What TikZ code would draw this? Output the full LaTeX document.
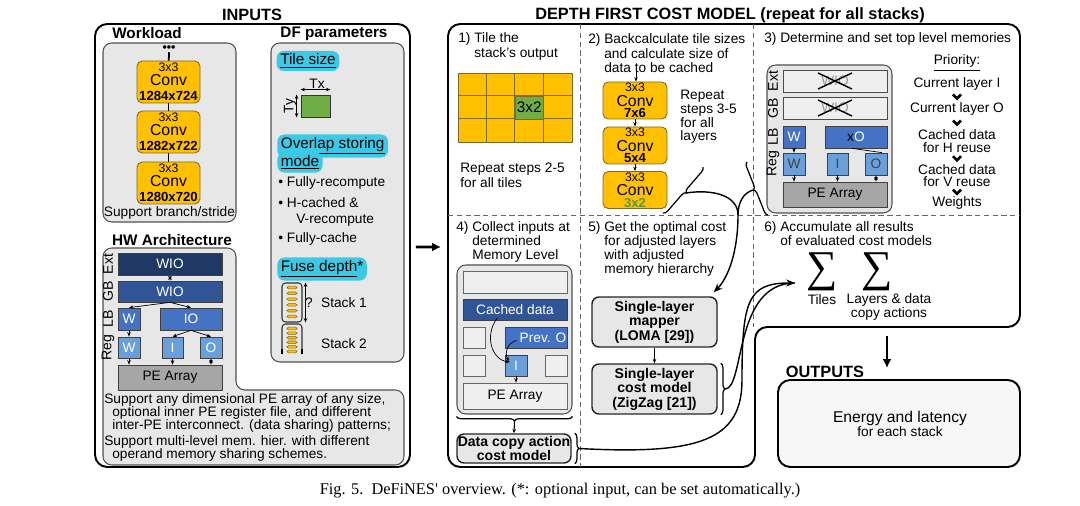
\documentclass[tikz,border=0pt]{standalone}
\usepackage{fontspec}
\setmainfont{Liberation Sans}
\newfontfamily\capserif{Liberation Serif}
\usepackage{graphicx}
\usetikzlibrary{arrows.meta,calc,decorations.pathreplacing}

\definecolor{convgold}{HTML}{FFC000}
\definecolor{convline}{HTML}{7F6A2A}
\definecolor{tilegreen}{HTML}{70AD47}
\definecolor{hlcyan}{HTML}{3BC9E6}
\definecolor{panelgray}{HTML}{E7E7E7}
\definecolor{panelline}{HTML}{505050}
\definecolor{memext}{HTML}{203864}
\definecolor{memgb}{HTML}{2F5597}
\definecolor{memlb}{HTML}{4472C4}
\definecolor{memreg}{HTML}{6A9FDA}
\definecolor{pegray}{HTML}{A6A6A6}
\definecolor{emptybox}{HTML}{EFEFEF}
\definecolor{outfill}{HTML}{F7F7F7}

\tikzset{
  sz/.style 2 args={minimum width=#1*0.02cm, minimum height=#2*0.02cm},
  txt/.style={align=left},
  bigtitle/.style={font=\fontsize{9.3}{10}\selectfont\bfseries},
  subtitle/.style={font=\fontsize{8.7}{9}\selectfont\bfseries},
  frame/.style={draw, line width=1.1pt, rounded corners=7pt},
  panel/.style={draw=panelline, fill=panelgray, line width=0.6pt, rounded corners=5pt},
  conv/.style={draw=convline, fill=convgold, rounded corners=3pt, line width=0.5pt},
  convk/.style={font=\fontsize{7}{7}\selectfont},
  convn/.style={font=\fontsize{9}{9}\selectfont},
  convd/.style={font=\fontsize{7.5}{7.5}\selectfont\bfseries},
  mem/.style={draw=black!75, line width=0.4pt, text=white},
  empt/.style={draw=black!60, fill=emptybox, line width=0.4pt},
  ghost/.style={draw=black!70, fill=emptybox, text=black!40, line width=0.4pt},
  hl/.style={fill=hlcyan, rounded corners=4pt, inner xsep=2pt, inner ysep=1.5pt, font=\fontsize{8.7}{9}\selectfont},
  boldbox/.style={draw=black!85, fill=panelgray, line width=0.8pt, rounded corners=4pt, align=center, font=\fontsize{8}{8.3}\selectfont\bfseries},
  sumsign/.style={font=\capserif\fontsize{25}{25}\selectfont},
  tip/.style={-{Stealth[length=2.5pt,width=2pt]}, line width=0.4pt},
  dtip/.style={{Stealth[length=2.5pt,width=2pt]}-{Stealth[length=2.5pt,width=2pt]}, line width=0.4pt},
  sidelab/.style={rotate=90, font=\fontsize{8}{8}\selectfont},
  cross/.style={line width=0.8pt},
  chev/.style={line width=1.5pt},
  flow/.style={line width=0.8pt},
  bigarrow/.style={line width=1.7pt, -{Latex[length=5pt,width=5pt]}},
  brc/.style={decorate, decoration={brace, amplitude=2.5pt}, line width=0.7pt},
  divider/.style={line width=0.4pt, black!60, dash pattern=on 3pt off 2pt},
  bar/.style={draw=convline, fill=convgold, rounded corners=0.8pt, line width=0.3pt, sz={10}{2.6}},
  gridln/.style={draw=convline, line width=0.5pt}
}

\begin{document}
\begin{tikzpicture}[x=0.02cm, y=-0.02cm, every node/.style={inner sep=0pt, font=\fontsize{7.8}{8}\selectfont}]
\useasboundingbox[fill=white] (0,0) rectangle (1080,506);

% titles
\node[bigtitle] (intitle) at (252,15) {INPUTS};
\node[bigtitle] (dftitle) at (730,15) {DEPTH FIRST COST MODEL (repeat for all stacks)};

%%%% INPUTS
\node[frame, sz={315}{443}] (inbox) at (252.5,245.5) {};

% workload
\node[subtitle] (wltitle) at (147,33) {Workload};
\node[panel, sz={133}{179}] (wlpanel) at (169.5,132.5) {};
\node[font=\fontsize{7}{7}\selectfont\bfseries] (dots) at (169,49) {\textbullet\textbullet\textbullet};
\foreach \n/\cy/\dims in {1/82/1284x724, 2/132/1282x722, 3/183/1280x720} {
  \node[conv, sz={63}{42}] (wl\n) at (168.5,\cy) {};
  \node[convk] (wl\n-k) at ($(wl\n.north)+(0,6.5)$) {3x3};
  \node[convn] (wl\n-c) at ($(wl\n.center)+(0,-1.5)$) {Conv};
  \node[convd] (wl\n-d) at ($(wl\n.south)+(0,-7.5)$) {\dims};
}
\draw[line width=1pt] (dots) -- (wl1);
\draw[line width=1pt] (wl1) -- (wl2);
\draw[line width=1pt] (wl2) -- (wl3);
\node (wlnote) at (169.5,213) {Support branch/stride};

% DF parameters
\node[subtitle] (dfptitle) at (334,34) {DF parameters};
\node[panel, sz={133}{319}] (dfpanel) at (337.5,202.5) {};
\node[hl] (tilehl) at (308,61) {\underline{Tile size}};
\node[draw=black!80, fill=tilegreen, sz={29}{22}, line width=0.5pt] (tile) at (315.5,106) {};
\draw[dtip] ($(tile.north west)+(0,-5)$) -- ($(tile.north east)+(0,-5)$);
\node (txlab) at (317,84) {Tx};
\draw[dtip] ($(tile.north west)+(-4,0)$) -- ($(tile.south west)+(-4,0)$);
\node[rotate=90] (tylab) at (290,106) {Ty};
\node[hl, anchor=west] (ovhl1) at (277,146) {\underline{Overlap storing}};
\node[hl, anchor=west] (ovhl2) at (277,162.5) {\underline{mode}};
\node[anchor=west] (om1) at (278,183) {\textbullet\ Fully-recompute};
\node[anchor=west] (om2) at (278,203) {\textbullet\ H-cached \&};
\node[anchor=west] (om3) at (296,220) {V-recompute};
\node[anchor=west] (om4) at (278,239) {\textbullet\ Fully-cache};
\node[hl, anchor=west] (fusehl) at (277,269) {\underline{Fuse depth}*};
% stacks
\node[draw=black!80, rounded corners=2pt, line width=0.6pt, sz={20}{39}] (stk1) at (292,302.5) {};
\foreach \k in {0,...,5}
  \node[bar] (stk1-\k) at (292,287.5+5.8*\k) {};
\draw[black!80, line width=0.6pt, rounded corners=2pt] (282,354) -- (282,324) -- (302,324) -- (302,354);
\draw[line width=1.3pt] (282,349) -- (282,354) (302,349) -- (302,354);
\foreach \k in {0,...,5}
  \node[bar] (stk2-\k) at (292,328.5+4.6*\k) {};
\draw[dtip] ($(stk1.north east)+(3,0)$) -- ($(stk1.south east)+(3,0)$);
\node (qmark) at (309,303) {?};
\node (stk1lab) at (344,303) {Stack 1};
\node (stk2lab) at (344,344) {Stack 2};

% HW architecture
\node[subtitle] (hwtitle) at (172,240) {HW Architecture};
\draw[panel] (103,248) -- (236,248) -- (236,390) -- (404,390) -- (404,465) -- (103,465) -- cycle;
\node[mem, fill=memext, sz={104}{22}] (hext) at (170,264) {WIO};
\node[mem, fill=memgb, sz={104}{21}] (hgb) at (170,291.5) {WIO};
\node[mem, fill=memlb, sz={22}{22}] (hlbw) at (129,319) {W};
\node[mem, fill=memlb, sz={62}{22}] (hlbio) at (191,319) {IO};
\node[mem, fill=memreg, sz={22}{21}] (hrw) at (129,347.5) {W};
\node[mem, fill=memreg, sz={21}{21}] (hri) at (172.5,347.5) {I};
\node[mem, fill=memreg, sz={22}{21}] (hro) at (211,347.5) {O};
\node[mem, fill=pegray, text=black, sz={104}{25}] (hpe) at (170,377.5) {PE Array};
\node[sidelab] (hlext) at (108,264) {Ext};
\node[sidelab] (hlgb) at (108,291.5) {GB};
\node[sidelab] (hllb) at (108,319) {LB};
\node[sidelab] (hlreg) at (108,347.5) {Reg};
\draw[dtip] (hext) -- (hgb);
\draw[tip] (hgb.south) -- (hlbw.north);
\draw[tip] (hgb.south) -- (hlbio.north);
\draw[tip] (hlbw) -- (hrw);
\draw[tip] (hlbio.south) -- (hri.north);
\draw[tip] (hlbio.south) -- (hro.north);
\draw[tip] (hrw.south) -- (hrw.south |- hpe.north);
\draw[tip] (hri.south) -- (hri.south |- hpe.north);
\draw[dtip] (hro.south) -- (hro.south |- hpe.north);
\node[anchor=west] (hwn1) at (104,400) {Support any dimensional PE array of any size,};
\node[anchor=west] (hwn2) at (112,413) {optional inner PE register file, and different};
\node[anchor=west] (hwn3) at (112,425.5) {inter-PE interconnect. (data sharing) patterns;};
\node[anchor=west] (hwn4) at (104,442) {Support multi-level mem. hier. with different};
\node[anchor=west] (hwn5) at (112,455) {operand memory sharing schemes.};

%%%% DEPTH FIRST COST MODEL
\coordinate (dfin) at (448,247);
\draw[bigarrow] ($(inbox.east)+(5,1.5)$) -- ($(dfin)+(-7,0)$);
\draw[frame] (448,24) -- (1020,24) -- (1020,327) -- (755,327) -- (755,467) -- (448,467) -- cycle;
\draw[divider] (580,24) -- (580,467);
\draw[divider] (753,24) -- (753,327);
\draw[divider] (448,215) -- (1020,215);

% 1) tiling
\node[txt, anchor=north west, font=\fontsize{7.8}{8.5}\selectfont] (s1text) at (458,32.5) {1) Tile the\\\phantom{1) }stack's output};
\node[draw=convline, fill=convgold, sz={114}{69}, line width=0.5pt] (tgrid) at (515,107.5) {};
\foreach \i in {1,2,3}
  \draw[gridln] ($(tgrid.north west)+(28.5*\i,0)$) -- ($(tgrid.south west)+(28.5*\i,0)$);
\foreach \j in {1,2}
  \draw[gridln] ($(tgrid.north west)+(0,23*\j)$) -- ($(tgrid.north east)+(0,23*\j)$);
\node[draw=convline, fill=tilegreen, sz={28.5}{23}, line width=0.5pt, font=\fontsize{8.7}{9}\selectfont] (tcell) at (529.25,107.5) {3x2};
\node[txt, anchor=north west, font=\fontsize{7.8}{8.5}\selectfont] (s1rep) at (460,162.5) {Repeat steps 2-5\\for all tiles};

% 2) backcalculation
\node[txt, anchor=north west, font=\fontsize{7.8}{7.1}\selectfont] (s2text) at (588,33.5) {2) Backcalculate tile sizes\\\phantom{2) }and calculate size of\\\phantom{2) }data to be cached};
\foreach \n/\cy/\dims/\dc in {1/100.5/7x6/black, 2/145.5/5x4/black, 3/190/3x2/tilegreen!85!black} {
  \node[conv, sz={64}{37}] (dfc\n) at (635,\cy) {};
  \node[convk] (dfc\n-k) at ($(dfc\n.north)+(0,6)$) {3x3};
  \node[convn] (dfc\n-c) at ($(dfc\n.center)+(0,0.5)$) {Conv};
  \node[convd, text=\dc] (dfc\n-d) at ($(dfc\n.south)+(0,-6)$) {\dims};
}
\draw[tip] ($(dfc1.north)+(1,-14)$) -- ($(dfc1.north)+(1,0)$);
\draw[tip] (dfc1) -- (dfc2);
\draw[tip] (dfc2) -- (dfc3);
\node[txt, anchor=north west, font=\fontsize{7.8}{7.9}\selectfont] (s2rep) at (680,89.5) {Repeat\\steps 3-5\\for all\\layers};

% 3) top level memories
\node[anchor=west] (s3text) at (764,39) {3) Determine and set top level memories};
\node[panel, sz={125}{148}] (s3panel) at (829.5,139) {};
\node[ghost, sz={104}{22}] (gext) at (835,81) {WIO};
\node[ghost, sz={104}{22}] (ggb) at (835,108) {WIO};
\draw[cross] ($(gext.center)+(-17,-8)$) -- ($(gext.center)+(17,8)$);
\draw[cross] ($(gext.center)+(-17,8)$) -- ($(gext.center)+(17,-8)$);
\draw[cross] ($(ggb.center)+(-17,-8)$) -- ($(ggb.center)+(17,8)$);
\draw[cross] ($(ggb.center)+(-17,8)$) -- ($(ggb.center)+(17,-8)$);
\node[mem, fill=memlb, sz={22}{22}] (glbw) at (794,137) {W};
\node[mem, fill=memlb, sz={62}{22}] (glbio) at (856,137) {\textcolor{black}{x}O};
\node[mem, fill=memreg, text=black!75, sz={22}{22}] (grw) at (794,164) {W};
\node[mem, fill=memreg, text=black!75, sz={21}{22}] (gri) at (837.5,164) {I};
\node[mem, fill=memreg, text=black!75, sz={22}{22}] (gro) at (876,164) {O};
\node[mem, fill=pegray, text=black, sz={104}{25}] (gpe) at (835,194.5) {PE Array};
\node[sidelab] (glext) at (773,81) {Ext};
\node[sidelab] (glgb) at (773,108) {GB};
\node[sidelab] (gllb) at (773,137) {LB};
\node[sidelab] (glreg) at (773,164) {Reg};
\draw[tip] (glbw) -- (grw);
\draw[line width=0.4pt] ($(glbio.south)+(-4,0)$) -- ($(gro.north)+(6,0)$);
\draw[tip] (grw.south) -- (grw.south |- gpe.north);
\draw[tip] (gri.south) -- (gri.south |- gpe.north);
\draw[dtip] (gro.south) -- (gro.south |- gpe.north);
% priority list
\node (pr0) at (957,63) {\underline{Priority:}};
\node (pr1) at (957,84) {Current layer I};
\node (pr2) at (957,109) {Current layer O};
\node[align=center, font=\fontsize{7.8}{7}\selectfont] (pr3) at (957,141) {Cached data\\for H reuse};
\node[align=center, font=\fontsize{7.8}{7}\selectfont] (pr4) at (957,175.5) {Cached data\\for V reuse};
\node (pr5) at (957,203) {Weights};
\foreach \a/\b in {pr1/pr2, pr2/pr3, pr3/pr4, pr4/pr5}
  \draw[chev] ($(\a.south)!0.5!(\b.north)+(-4,-2)$) -- ++(4,4) -- ++(4,-4);

% 4) collect inputs
\node[txt, anchor=north west] (s4text) at (456,221.5) {4) Collect inputs at\\\phantom{4) }determined\\\phantom{4) }Memory Level};
\node[panel, sz={115}{149}] (s4panel) at (514.5,339.5) {};
\node[empt, sz={104}{22}] (ctop) at (515,282) {};
\node[mem, fill=memgb, sz={104}{21}] (ccache) at (515,309.5) {Cached data};
\node[empt, sz={22}{21}] (cl1) at (474,337.5) {};
\node[mem, fill=memlb, sz={62}{21}] (cprev) at (536,337.5) {\hspace*{8pt}Prev. O};
\node[empt, sz={22}{21}] (cl2) at (474,365.5) {};
\node[mem, fill=memreg, sz={22}{21}] (ci) at (516,365.5) {I};
\node[empt, sz={22}{21}] (cr2) at (556,365.5) {};
\node[empt, sz={104}{26}] (cpe) at (515,396) {PE Array};
\draw[tip] ($(ccache.south)+(-18,-2)$) .. controls (484,336) and (492,360) .. (510,362);
\draw[tip] ($(cprev.west)+(12,3)$) .. controls (508,342) and (504,353) .. (509,361);
\draw[tip] (ci.south) -- (ci.south |- cpe.north);
\draw[brc] ($(s4panel.south east)+(0,2)$) -- ($(s4panel.south west)+(0,2)$);
\node[boldbox, sz={114}{29}] (dcopy) at (514,448.5) {Data copy action\\cost model};
\draw[tip, line width=0.6pt] ($(s4panel.south)+(0,7)$) -- (dcopy.north);
\draw[brc] ($(dcopy.north east)+(3,0)$) -- ($(dcopy.south east)+(3,0)$);
\coordinate (dctip) at (579,448.5);

% 5) optimal cost
\node[txt, anchor=north west] (s5text) at (588,221.5) {5) Get the optimal cost\\\phantom{5) }for adjusted layers\\\phantom{5) }with adjusted\\\phantom{5) }memory hierarchy};
\node[boldbox, sz={125}{50}] (mapper) at (654.5,322) {Single-layer\\mapper\\(LOMA [29])};
\node[boldbox, sz={125}{50}] (costm) at (654.5,389) {Single-layer\\cost model\\(ZigZag [21])};
\draw[tip, line width=0.6pt] (mapper) -- (costm);
\draw[brc] ($(costm.north east)+(3,0)$) -- ($(costm.south east)+(3,0)$);
\coordinate (cmtip) at (725,389);

% braces from step 2 and step 3 into the mapper
\draw[brc, decoration={mirror}] (663,213) -- (703,167);
\draw[brc, decoration={mirror}] (747,162) -- (768,215);
\coordinate (b1tip) at (686,193);
\coordinate (b2tip) at (753,190);
\coordinate (merge) at (738,215);
\draw[flow] (b1tip) .. controls (712,189) and (738,195) .. (merge);
\draw[flow] (b2tip) .. controls (743,193) and (738,203) .. (merge);
\draw[flow, -{Stealth[length=5pt,width=4pt]}] (merge) .. controls (738,252) and (728,278) .. ($(mapper.north east)+(-4,-4)$);

% 6) accumulate
\node[txt, anchor=north west] (s6text) at (764,221.5) {6) Accumulate all results\\\phantom{6) }of evaluated cost models};
\node[sumsign] (sum1) at (822,272) {∑};
\node[sumsign] (sum2) at (877,272) {∑};
\node (sumtiles) at (822,300) {Tiles};
\node[align=center] (sumlay) at (889,306.5) {Layers \& data\\copy actions};
\coordinate (sumin) at (795,283);
\draw[flow] (cmtip) .. controls (745,389) and (733,283) .. (sumin);
\draw[flow, -{Stealth[length=5pt,width=4pt]}] (dctip) .. controls (700,455) and (742,440) .. (742,380) .. controls (742,300) and (748,283) .. (sumin);

%%%% OUTPUTS
\coordinate (s6out) at (887,336);
\coordinate (outarr) at (887,368);
\draw[bigarrow, line width=1.4pt] (s6out) -- (outarr);
\node[bigtitle] (outtitle) at (825,372) {OUTPUTS};
\node[frame, fill=outfill, sz={242}{87}] (outbox) at (899,423.5) {};
\node[font=\fontsize{8.9}{9}\selectfont] (outl1) at (900,418) {Energy and latency};
\node (outl2) at (900,432) {for each stack};

% caption
\node[font=\capserif\fontsize{9.3}{9.3}\selectfont] (caption) at (560,491) {Fig. 5.\ \ DeFiNES' overview. (*: optional input, can be set automatically.)};
\end{tikzpicture}
\end{document}
